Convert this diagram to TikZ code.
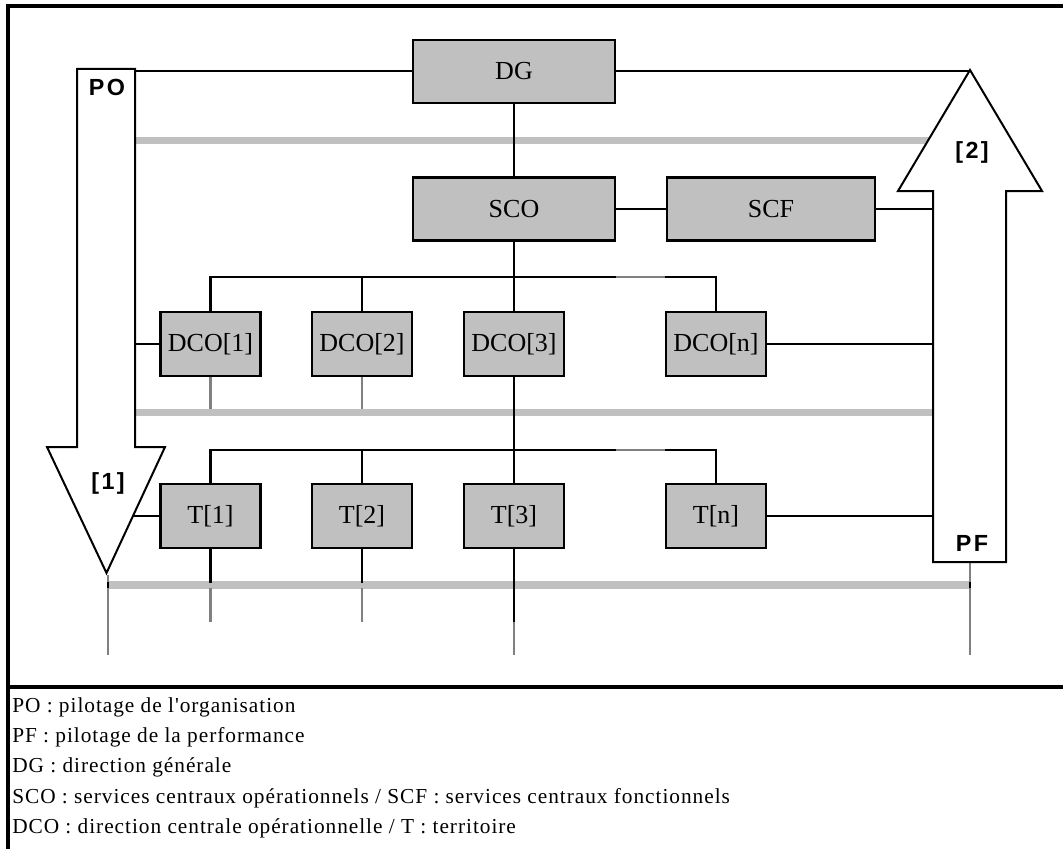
\documentclass[tikz,border=0pt]{standalone}
\usepackage{fontspec}
\setmainfont{Liberation Serif}
\newfontfamily\labfont[LetterSpace=10]{Liberation Sans}
\newfontfamily\legfont[LetterSpace=4.5]{Liberation Serif}
\definecolor{boxgray}{HTML}{C0C0C0}
\definecolor{midgray}{HTML}{808080}
\tikzset{
  frameline/.style={line width=2.4pt, black},
  box/.style={draw, line width=2.2pt, fill=boxgray, inner sep=0pt, font=\fontsize{19.5}{22}\selectfont},
  bigbox/.style={box, minimum width=151.5pt, minimum height=47.25pt},
  smallbox/.style={box, minimum width=75pt, minimum height=48pt},
  conn/.style={line width=2pt, black},
  thinconn/.style={line width=1.5pt, black},
  band/.style={line width=5.5pt, boxgray},
  stub/.style={line width=1.9pt, midgray},
  bigarrow/.style={draw, line width=1.5pt, fill=white, line join=miter},
  lab/.style={font=\labfont\bfseries\fontsize{17.5}{19}\selectfont, inner sep=0pt},
  legend/.style={font=\legfont\fontsize{16}{18}\selectfont, anchor=west, inner sep=0pt}
}
\begin{document}
\begin{tikzpicture}[x=0.75pt,y=-0.75pt]
\useasboundingbox (0,0) rectangle (1063,849);

% frame
\draw[frameline] (1063,6) -- (8,6) -- (8,849);
\draw[frameline] (8,687) -- (1063,687);

% boxes
\node[bigbox] (DG) at (514,71.5) {DG};
\node[bigbox] (SCO) at (514,209) {SCO};
\node[bigbox, minimum width=156pt] (SCF) at (771,209) {SCF};
\node[smallbox] (DCO1) at (210.5,344) {DCO[1]};
\node[smallbox] (DCO2) at (362,344) {DCO[2]};
\node[smallbox] (DCO3) at (514,344) {DCO[3]};
\node[smallbox] (DCOn) at (716,344) {DCO[n]};
\node[smallbox] (T1) at (210.5,516) {T[1]};
\node[smallbox] (T2) at (362,516) {T[2]};
\node[smallbox] (T3) at (514,516) {T[3]};
\node[smallbox] (Tn) at (716,516) {T[n]};

% arrow reference coordinates
\coordinate (poR) at (135,0);
\coordinate (poTip) at (106.5,573);
\coordinate (pfTip) at (970,70);
\coordinate (pfL) at (933,0);
\coordinate (pfBot) at (970,562);

% gray bands
\draw[band] (120,140.5) -- (950,140.5);
\draw[band] (120,412.5) -- (950,412.5);
\draw[band] (108,585) -- (970,585);

% stubs below
\draw[stub] (DCO1.south) -- (DCO1.south |- 0,409);
\draw[stub] (DCO2.south) -- (DCO2.south |- 0,409);
\draw[stub] (T1.south |- 0,588) -- (T1.south |- 0,622);
\draw[stub] (T2.south |- 0,588) -- (T2.south |- 0,622);
\draw[stub] (T3.south |- 0,622) -- (T3.south |- 0,655);
\draw[stub] (108,575) -- (108,655);
\draw[stub] (pfBot) -- (970,655);
\draw[conn] (108,582) -- (108,588);
\draw[conn] (970,582) -- (970,588);

% connectors
\draw[thinconn] (DG.west) -- (DG.west -| poR);
\draw[thinconn] (DG.east) -- (DG.east -| pfTip);
\draw[conn] (DG.south) -- (SCO.north);
\draw[thinconn] (SCO.east) -- (SCF.west);
\draw[thinconn] (SCF.east) -- (SCF.east -| pfL);
\draw[conn] (SCO.south) -- (DCO3.north);
% DCO bus
\draw[conn, line cap=rect] (DCO1.north) |- (616,277);
\draw[stub] (616,277) -- (665,277);
\draw[conn] (665,277) -| (DCOn.north);
\draw[conn] (DCO2.north) -- (DCO2.north |- 0,277);
% T bus
\draw[conn] (DCO3.south) -- (T3.north);
\draw[conn, line cap=rect] (T1.north) |- (616,450);
\draw[stub] (616,450) -- (665,450);
\draw[conn] (665,450) -| (Tn.north);
\draw[conn] (T2.north) -- (T2.north |- 0,450);
% side links
\draw[thinconn] (DCO1.west) -- (DCO1.west -| poR);
\draw[thinconn] (DCOn.east) -- (DCOn.east -| pfL);
\draw[thinconn] (T1.west) -- (T1.west -| poTip);
\draw[thinconn] (Tn.east) -- (Tn.east -| pfL);
% below T boxes
\draw[conn] (T1.south) -- (T1.south |- 0,583);
\draw[conn] (T2.south) -- (T2.south |- 0,583);
\draw[conn] (T3.south) -- (T3.south |- 0,622);

% big arrows
\draw[bigarrow] (77,69) -- (135,69) -- (135,447) -- (165,447) -- (poTip) -- (47,447) -- (77,447) -- cycle;
\draw[bigarrow] (pfTip) -- (1042,191) -- (1006,191) -- (1006,562) -- (933,562) -- (933,191) -- (898,191) -- cycle;

% arrow labels
\node[lab] (po) at (107,87) {PO};
\node[lab] (n1) at (108,483) {[1]};
\node[lab] (n2) at (972,152) {[2]};
\node[lab] (pf) at (972,543) {PF};

% legend
\node[legend] (l1) at (12,707) {PO : pilotage de l'organisation};
\node[legend] (l2) at (12,737) {PF : pilotage de la performance};
\node[legend] (l3) at (12,767.5) {DG : direction générale};
\node[legend] (l4) at (12,798) {SCO : services centraux opérationnels / SCF : services centraux fonctionnels};
\node[legend] (l5) at (12,828.5) {DCO : direction centrale opérationnelle / T : territoire};
\end{tikzpicture}
\end{document}
